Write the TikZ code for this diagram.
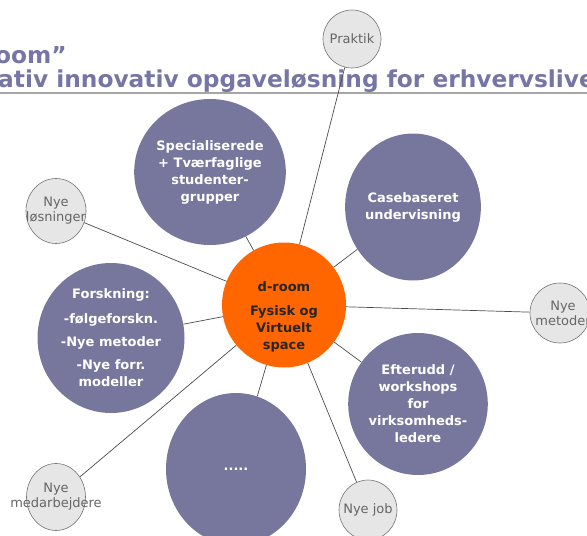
\documentclass[tikz,border=0pt]{standalone}
\usepackage{fontspec}
\setmainfont{DejaVu Sans}
\usetikzlibrary{shapes.geometric}
\definecolor{slate}{HTML}{77779E}
\definecolor{droomorange}{HTML}{FF6600}
\definecolor{satfill}{HTML}{E6E6E6}
\definecolor{titleblue}{HTML}{7676A6}
\tikzset{%
   bub/.style={
      ellipse,
      inner sep=0pt,
      fill=slate,
      text=white,
      align=center,
      font=\bfseries\fontsize{13}{17}\selectfont
   },
   hub/.style={
      ellipse,
      inner sep=0pt,
      fill=droomorange
   },
   hubtxt/.style={
      text=black!85,
      align=center,
      font=\bfseries\fontsize{13}{17}\selectfont
   },
   sat/.style={
      ellipse,
      inner sep=0pt,
      draw=black!55,
      line width=.6pt,
      fill=satfill
   },
   sattxt/.style={
      text=black!60,
      align=center,
      font=\fontsize{13}{15}\selectfont
   },
   link/.style={
      draw=black!70,
      line width=.7pt
   },
   headline/.style={
      anchor=base west,
      inner sep=0pt,
      text=titleblue,
      font=\bfseries\fontsize{23.3}{23.3}\selectfont
   },
}

\begin{document}
\begin{tikzpicture}[x=1pt, y=-1pt]
      \useasboundingbox (0,0) rectangle (587,536);
      \clip (0,0) rectangle (587,536);
      % title, cut at the edges
      \node[headline] (t1) at (-5,63) {oom”};
      \node[headline] (t2) at (-2,87) {ativ innovativ opgaveløsning for erhvervslive};
      \draw[black!35, line width=1.2pt] (0,93) -- (587,93);
      % big bubbles
      \node[hub, minimum width=124, minimum height=125,
            label={[hubtxt, yshift=-12pt]center:d-room\\[7pt]Fysisk og\\Virtuelt\\space}] (hub) at (284,305) {};
      \node[bub, minimum width=135, minimum height=146] (spec) at (210,172)
         {Specialiserede\\+ Tværfaglige\\studenter-\\grupper};
      \node[bub, minimum width=130, minimum height=147] (case) at (413,207)
         {Casebaseret\\undervisning};
      \node[bub, minimum width=147, minimum height=150] (forsk) at (111,338)
         {Forskning:\\[8pt]-følgeforskn.\\[6pt]-Nye metoder\\[6pt]-Nye forr.\\modeller};
      \node[bub, minimum width=127, minimum height=142] (efter) at (418,404)
         {Efterudd /\\workshops\\for\\virksomheds-\\ledere};
      \node[bub, minimum width=140, minimum height=152] (dots) at (236,469) {.....};
      % small bubbles
      \node[sat, minimum width=58, minimum height=58,
            label={[sattxt]center:Praktik}] (pr) at (352,39) {};
      \node[sat, minimum width=60, minimum height=65,
            label={[sattxt]center:Nye\\løsninger}] (los) at (56,211) {};
      \node[sat, minimum width=60, minimum height=60,
            label={[sattxt, xshift=3pt]center:Nye\\metoder}] (met) at (560,313) {};
      \node[sat, minimum width=59, minimum height=67,
            label={[sattxt]center:Nye\\medarbejdere}] (med) at (56,497) {};
      \node[sat, minimum width=58, minimum height=60,
            label={[sattxt]center:Nye job}] (job) at (368,510) {};
      % links
      \path (hub) edge[link] (spec);
      \path (hub) edge[link] (case);
      \path (hub) edge[link] (forsk);
      \path (hub) edge[link] (efter);
      \path (hub) edge[link] (dots);
      \path (hub) edge[link] (pr);
      \path (hub) edge[link] (los);
      \path (hub) edge[link] (met);
      \path (hub) edge[link] (med);
      \path (hub) edge[link] (job);
   \end{tikzpicture}
\end{document}
